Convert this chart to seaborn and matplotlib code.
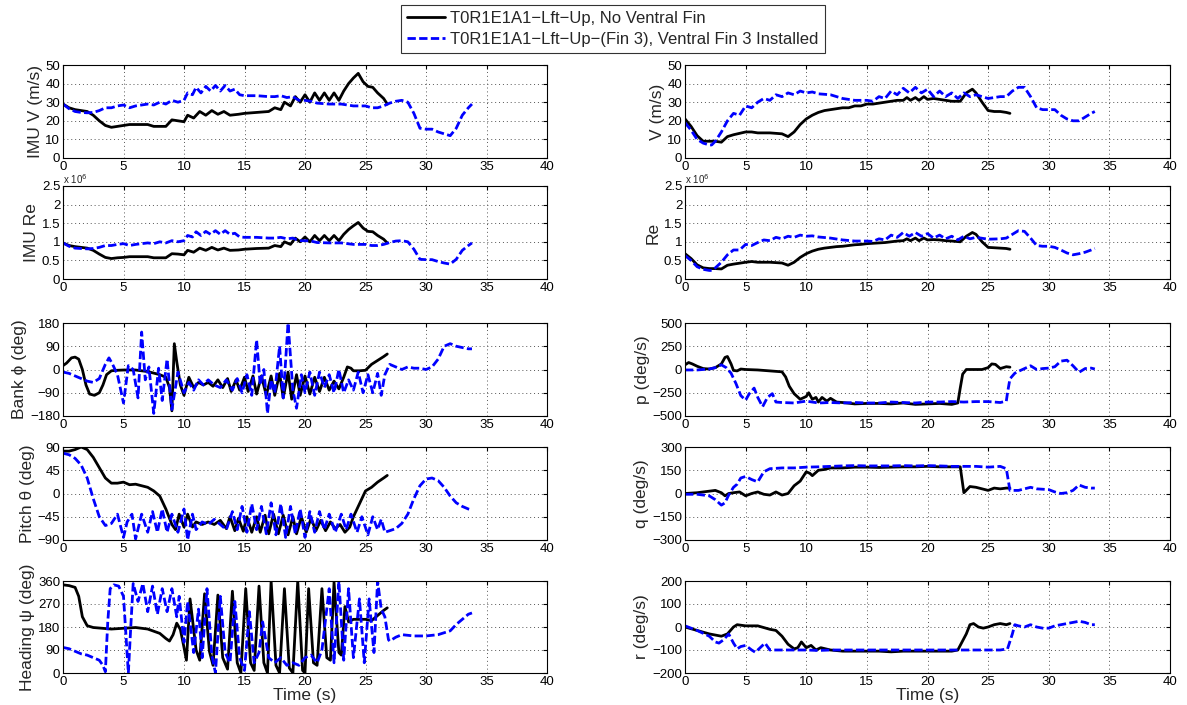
import numpy as np
import pandas as pd
import matplotlib
matplotlib.use("Agg")
import matplotlib.pyplot as plt
import seaborn as sns

# ---------------- data ----------------
label_nf = "T0R1E1A1\u2212Lft\u2212Up, No Ventral Fin"
label_f3 = "T0R1E1A1\u2212Lft\u2212Up\u2212(Fin 3), Ventral Fin 3 Installed"

# IMU V (m/s)
t_imuv_nf = [0,0.5,1,1.5,2,2.5,3,3.5,4,4.5,5,5.5,6,6.5,7,7.5,8,8.5,9,9.5,10,10.3,10.8,11.3,11.8,12.3,12.8,13.3,13.8,14.5,15,16,17,17.5,18,18.3,18.8,19.2,19.6,20,20.4,20.8,21.2,21.6,22,22.4,22.8,23.2,23.6,24,24.4,24.8,25.2,25.6,26,26.5,26.8]
imuv_nf = [29,27,26,25.5,25,23,20,17.5,16.5,17,17.5,18,18,18,18,17,17,17,20.5,20,19.5,23,21.5,25,23,25.5,23.5,25,23,23.5,24,24.5,25,27,26,30,28,33,30,34,30,35,31,35,31,35,31,36,40,43,45.5,41,38.5,38,35,32,29]
t_imuv_f3 = [0,0.5,1,1.5,2,2.5,3,3.5,4,4.5,5,5.5,6,6.5,7,7.5,8,8.5,9,9.5,10,10.3,10.7,11,11.4,11.8,12.2,12.6,13,13.4,13.8,14.2,14.6,15,16,17,17.5,18,18.5,19,19.5,20,20.5,21,22,23,24,25,25.5,26,26.5,27,27.5,28,28.5,29,29.5,30,30.5,31,31.5,32,32.5,33,33.5,33.8]
imuv_f3 = [29,26.5,25,24.5,24.3,24.5,25.5,27,27,28,28.5,27,28,28.5,29,28.5,30,29,31,30,31,35,34,38,35,38.5,36,39,36,39,36,37,34,33.5,33.5,33,33,33.5,32.5,33,31,31,30.5,29.5,29,29,28,28,27,27,28,29.5,30.5,31,30,24,16,15.5,15.5,14,13,12,16,23,27,29]

# IMU Re (x 1e6)
imure_nf = [0.97,0.9,0.87,0.85,0.83,0.77,0.67,0.58,0.55,0.57,0.58,0.6,0.6,0.6,0.6,0.57,0.57,0.57,0.68,0.67,0.65,0.77,0.72,0.83,0.77,0.85,0.78,0.83,0.77,0.78,0.8,0.82,0.83,0.9,0.87,1.0,0.93,1.1,1.0,1.13,1.0,1.17,1.03,1.17,1.03,1.17,1.03,1.2,1.33,1.43,1.52,1.37,1.28,1.27,1.17,1.07,0.97]
imure_f3 = [0.97,0.88,0.83,0.82,0.81,0.82,0.85,0.9,0.9,0.93,0.95,0.9,0.93,0.95,0.97,0.95,1.0,0.97,1.03,1.0,1.03,1.17,1.13,1.27,1.17,1.28,1.2,1.3,1.2,1.3,1.2,1.23,1.13,1.12,1.12,1.1,1.1,1.12,1.08,1.1,1.03,1.03,1.02,0.98,0.97,0.97,0.93,0.93,0.9,0.9,0.93,0.98,1.02,1.03,1.0,0.8,0.53,0.52,0.52,0.47,0.43,0.4,0.53,0.77,0.9,0.97]

# Bank phi (deg)
t_bank_nf = [0,0.3,0.7,1,1.3,1.6,1.9,2.2,2.6,3,3.3,3.6,4,4.5,5,6,7,8,8.5,8.8,9,9.2,9.4,9.7,10,10.4,10.8,11.2,11.6,12,12.4,12.8,13.2,13.6,13.9,14.3,14.6,15,15.3,15.7,16,16.4,16.8,17.2,17.5,17.9,18.2,18.6,18.9,19.3,19.6,20,20.4,20.8,21.2,21.6,22,22.4,22.8,23.2,23.5,23.8,24,24.5,25,25.5,26,26.5,26.8]
bank_nf = [15,25,45,48,40,0,-60,-95,-100,-90,-60,-20,-5,-3,-2,-2,-8,-20,-30,-70,-160,100,30,-60,-100,-30,-70,-50,-60,-50,-65,-40,-70,-35,-85,-40,-80,-30,-85,-25,-95,-25,-100,-25,-100,-15,-110,-10,-115,-20,-100,-25,-95,-30,-85,-30,-80,-45,-75,-30,10,5,-5,-5,-3,20,35,50,60]
t_bank_f3 = [0,0.5,1,1.5,2,2.5,3,3.5,3.8,4.1,4.5,5,5.4,5.8,6.2,6.5,6.8,7.1,7.5,7.9,8.2,8.6,9,9.5,10,10.4,10.8,11.2,11.6,12,12.5,13,13.5,14,14.4,14.8,15.2,15.6,16,16.3,16.6,16.9,17.2,17.5,17.9,18.2,18.6,19,19.3,19.7,20,20.4,20.8,21.2,21.6,22,22.4,22.8,23.2,23.6,24,24.4,24.8,25.2,25.6,26,26.3,26.6,27,27.5,28,28.5,29,29.5,30,30.5,31,31.5,32,32.5,33,33.5,33.8]
bank_f3 = [-10,-15,-25,-35,-45,-50,-35,20,45,20,-20,-130,15,0,-110,145,-40,10,-170,5,-120,40,-155,-10,-90,-50,-80,-40,-60,-40,-60,-70,-40,-80,-35,-90,-20,-100,115,-60,0,-170,-40,-90,90,-110,180,-80,-150,-20,-90,-10,-100,-10,-70,-20,-90,0,-90,-40,-80,-10,-90,-20,-90,-15,-100,-20,20,10,0,10,5,5,0,10,40,90,100,90,85,80,80]

# Pitch theta (deg)
t_pitch_nf = [0,0.5,1,1.5,2,2.5,3,3.5,4,4.5,5,5.5,6,6.5,7,7.5,8,8.5,9,9.3,9.6,10,10.3,10.7,11,11.5,12,12.5,13,13.5,13.8,14.2,14.5,14.9,15.2,15.6,16,16.3,16.7,17,17.4,17.8,18.2,18.6,19,19.3,19.7,20.1,20.5,20.9,21.3,21.7,22.1,22.5,22.9,23.3,23.7,24,24.5,25,25.5,26,26.5,26.8]
pitch_nf = [82,82,85,90,85,70,50,30,20,20,22,17,18,15,12,5,-5,-30,-60,-70,-40,-65,-40,-65,-55,-60,-55,-60,-52,-68,-45,-72,-48,-73,-45,-75,-45,-75,-42,-78,-40,-78,-42,-80,-45,-78,-45,-75,-48,-72,-52,-72,-55,-68,-60,-75,-65,-45,-20,5,12,22,30,35]
t_pitch_f3 = [0,0.5,1,1.5,2,2.5,3,3.5,4,4.5,5,5.3,5.7,6,6.5,7,7.4,7.8,8.2,8.6,9,9.5,10,10.3,10.7,11,11.5,12,12.5,13,13.5,14,14.4,14.8,15.2,15.6,16,16.4,16.8,17.2,17.6,18,18.4,18.8,19.2,19.6,20,20.4,20.8,21.2,21.6,22,22.5,23,23.4,23.8,24.3,24.7,25.2,25.6,26,26.3,26.6,27,27.5,28,28.5,29,29.5,30,30.5,31,31.5,32,32.5,33,33.5,33.8]
pitch_f3 = [78,75,68,55,30,-10,-45,-62,-58,-40,-85,-55,-40,-88,-40,-75,-35,-75,-30,-75,-40,-75,-30,-90,-40,-70,-55,-60,-50,-60,-70,-35,-70,-25,-75,-20,-70,-25,-78,-18,-80,-20,-85,-25,-78,-30,-85,-35,-75,-35,-70,-40,-75,-40,-70,-40,-75,-45,-80,-45,-70,-50,-75,-72,-68,-58,-40,-10,15,28,30,25,12,-5,-18,-25,-30,-32]

# Heading psi (deg)
t_head_nf = [0,0.5,1,1.3,1.6,2,2.5,3,4,5,6,7,8,8.5,8.8,9.1,9.4,9.7,10,10.2,10.5,11,11.3,11.7,12.1,12.4,12.8,13.2,13.6,14,14.4,14.7,15.1,15.5,15.8,16.2,16.6,16.9,17.2,17.6,17.9,18.3,18.7,19,19.4,19.8,20,20.3,20.7,21,21.4,21.8,22.1,22.4,22.8,23,23.3,23.6,24,25,25.5,26,26.5,26.8]
head_nf = [345,342,335,300,220,185,178,176,172,175,178,172,155,135,125,150,195,170,100,50,290,90,50,310,85,30,305,60,15,320,40,0,330,40,10,340,40,0,360,30,0,330,20,0,360,10,0,330,40,30,330,60,50,355,80,70,260,200,210,210,205,225,245,255]
t_head_f3 = [0,0.5,1,1.5,2,2.5,3,3.3,3.5,3.7,3.9,4.2,4.6,5,5.2,5.4,5.6,5.8,6.2,6.6,7,7.4,7.8,8.2,8.6,9,9.4,9.6,10,10.3,10.8,11.2,11.5,11.9,12.3,12.6,13,13.4,13.8,14.2,14.6,15,15.4,15.8,16.2,16.5,17,17.5,18,18.5,19,19.5,20,20.5,21,21.4,22,22.4,22.8,23.2,23.6,24,24.5,24.9,25.3,25.7,26,26.3,26.6,26.9,27,27.5,28,29,30,31,32,32.5,33,33.5,33.8]
head_f3 = [100,95,85,75,70,60,50,30,5,200,330,345,340,300,150,0,180,350,280,350,240,340,230,330,240,330,220,300,120,280,80,250,60,330,70,0,300,80,40,280,60,10,240,40,80,200,60,40,60,30,40,30,60,70,40,90,330,40,360,50,330,60,290,40,290,80,360,250,220,130,125,140,150,145,145,150,165,190,210,230,235]

# V (m/s), right column
t_v_nf = [0,0.5,1,1.5,2,2.5,3,3.5,4,5,5.5,6,7,8,8.5,9,9.5,10,10.5,11,11.5,12,12.5,13,13.5,14,14.5,15,15.5,16,16.5,17,17.5,18,18.3,18.6,19,19.3,19.7,20,20.5,21,21.5,22,22.7,23.2,23.7,24,24.5,25,25.5,26,26.5,26.8]
v_nf = [21,17,12,9,9,9,8.5,11.5,12.5,14,14,13.5,13.5,13,11.5,14,18,21,23,24.5,25.5,26,26.5,27,27,28,28,29,29,29.5,30,30.5,31,31,32.5,31,32.5,31,33,31.5,32,31.5,31,30.5,30.5,35,37,35,30,25.5,25,25,24.5,24]
t_v_f3 = [0,0.5,1,1.5,2,2.2,2.5,3,3.5,4,4.5,5,5.5,6,6.5,7,7.5,8,8.5,9,9.5,10,10.5,11,12,13,14,15,15.5,16,16.5,17,17.5,18,18.5,19,19.5,20,20.5,21,21.5,22,22.5,23,23.5,24,25,26,26.5,27,27.5,28,28.5,29,29.5,30,30.5,31,31.5,32,32.5,33,33.5,33.8]
v_f3 = [19,15,10,8,7,7,9,14,20,24,23,28,27,30,32,31,34,33,35,34,36,35,35.5,34.5,34,32,31,31,30.5,33,32,36,34,37.5,35,38,35,37,33,36,33,35,32,35,33,34,32,33,33,36,38,38,33,27,26,26,26,23,21,20,20,22,24,25]

# Re (x 1e6), right column
re_nf = [0.68,0.55,0.38,0.3,0.28,0.28,0.27,0.37,0.4,0.45,0.47,0.45,0.45,0.43,0.37,0.45,0.58,0.68,0.75,0.8,0.83,0.85,0.87,0.88,0.9,0.92,0.93,0.95,0.96,0.97,0.98,1.0,1.02,1.03,1.08,1.03,1.1,1.03,1.1,1.05,1.06,1.05,1.03,1.02,1.0,1.15,1.25,1.2,1.0,0.85,0.84,0.83,0.82,0.8]
re_f3 = [0.63,0.5,0.33,0.26,0.23,0.23,0.3,0.45,0.65,0.78,0.78,0.93,0.9,0.98,1.05,1.03,1.12,1.08,1.15,1.12,1.18,1.15,1.16,1.13,1.1,1.05,1.02,1.02,1.01,1.08,1.05,1.18,1.12,1.25,1.15,1.25,1.15,1.22,1.1,1.18,1.08,1.15,1.05,1.15,1.08,1.12,1.07,1.08,1.1,1.2,1.3,1.28,1.1,0.9,0.88,0.88,0.85,0.78,0.7,0.65,0.68,0.72,0.78,0.82]

# p (deg/s)
t_p_nf = [0,0.3,0.6,1,1.5,2,2.5,3,3.3,3.5,3.8,4,4.3,4.6,5,6,7,7.5,8,8.3,8.6,9,9.5,10,10.2,10.5,10.8,11,11.3,11.7,12,12.5,13,14,15,16,17,18,19,20,21,22,22.5,22.7,22.9,23.2,24,24.5,25,25.3,25.6,26,26.5,26.8]
p_nf = [50,75,60,35,10,5,20,60,130,140,60,-10,-15,5,0,-5,-15,-20,-25,-80,-180,-260,-320,-290,-250,-320,-300,-350,-300,-340,-310,-350,-355,-370,-365,-365,-370,-360,-375,-370,-365,-375,-360,-200,-50,0,0,0,20,60,55,10,30,25]
t_p_f3 = [0,1,2,2.5,3,3.4,3.8,4.2,4.6,5,5.3,5.7,6,6.4,6.8,7.2,7.5,8,9,10,11,12,13,14,15,16,17,18,19,20,21,22,23,24,25,26,26.5,26.6,26.8,27.2,27.5,28,28.5,29,29.5,30,30.5,31,31.5,32,32.5,33,33.5,33.8]
p_f3 = [-5,-5,5,20,50,20,-40,-150,-280,-330,-260,-200,-300,-400,-300,-260,-350,-355,-360,-340,-360,-355,-360,-355,-360,-360,-350,-355,-360,-350,-350,-345,-350,-345,-345,-355,-340,-250,-100,-40,-20,10,40,0,10,15,30,90,100,40,-30,10,15,5]

# q (deg/s)
t_q_nf = [0,1,2,2.5,3,3.3,3.6,4,4.5,5,5.5,6,6.5,7,7.5,8,8.5,9,9.5,10,10.3,10.5,11,11.5,12,13,14,15,16,17,18,19,20,21,22,22.7,23,23.5,24,24.5,25,25.5,26,26.5,26.8]
q_nf = [0,5,15,20,5,-15,0,5,10,-15,0,10,-5,-10,10,-10,0,50,80,140,130,115,150,155,165,165,170,170,168,170,172,172,175,172,172,172,5,45,40,30,20,35,30,35,35]
t_q_f3 = [0,1,2,2.5,3,3.3,3.6,4,4.3,4.6,5,5.5,6,6.5,7,8,9,10,11,12,13,14,15,16,17,18,19,20,21,22,23,24,25,26,26.5,26.8,27,27.5,28,28.5,29,30,30.5,31,31.5,32,32.5,33,33.5,33.8]
q_f3 = [-5,-5,-15,-40,-75,-60,-10,40,60,100,110,90,75,140,160,165,165,170,172,175,178,180,178,178,178,180,178,180,178,175,175,175,170,175,160,20,20,20,30,40,30,25,10,0,5,20,55,40,35,35]

# r (deg/s)
t_r_nf = [0,1,2,2.5,3,3.5,4,4.3,5,6,7,7.5,8,8.5,9,9.3,9.6,10,10.4,10.8,11.2,11.6,12,13,14,15,16,17,18,19,20,21,22,22.5,22.8,23.2,23.5,23.8,24.2,24.6,25,25.5,26,26.5,26.8]
r_nf = [0,-15,-30,-35,-40,-30,0,10,5,5,-10,-15,-40,-75,-95,-90,-65,-90,-80,-100,-90,-95,-100,-105,-105,-105,-105,-108,-105,-105,-105,-105,-105,-100,-70,-30,10,15,0,-5,0,10,15,10,15]
t_r_f3 = [0,1,2,2.5,2.8,3.2,3.6,4,4.3,4.6,5,5.5,5.8,6.2,6.6,7,8,9,10,11,12,13,14,15,16,17,18,19,20,21,22,23,24,25,26,26.6,27,27.2,27.5,28,28.5,29,29.5,30,30.5,31,31.5,32,32.5,33,33.5,33.8]
r_f3 = [5,-15,-40,-65,-70,-55,-30,-70,-95,-85,-80,-100,-110,-90,-70,-100,-100,-100,-100,-102,-100,-100,-100,-100,-100,-100,-100,-100,-100,-100,-100,-100,-100,-100,-100,-95,-30,10,5,0,10,0,-5,-5,5,10,15,20,25,20,10,10]

# panel definitions: (ylabel, t_nf, y_nf, t_f3, y_f3, ylim, yticks, yticklabels, sci)
left_panels = [
    ("IMU V (m/s)", t_imuv_nf, imuv_nf, t_imuv_f3, imuv_f3, (0, 50), [0,10,20,30,40,50], None, False),
    ("IMU Re", t_imuv_nf, imure_nf, t_imuv_f3, imure_f3, (0, 2.5), [0,0.5,1,1.5,2,2.5], ["0","0.5","1","1.5","2","2.5"], True),
    ("Bank \u03d5 (deg)", t_bank_nf, bank_nf, t_bank_f3, bank_f3, (-180, 180), [-180,-90,0,90,180], ["\u2212180","\u221290","0","90","180"], False),
    ("Pitch \u03b8 (deg)", t_pitch_nf, pitch_nf, t_pitch_f3, pitch_f3, (-90, 90), [-90,-45,0,45,90], ["\u221290","\u221245","0","45","90"], False),
    ("Heading \u03c8 (deg)", t_head_nf, head_nf, t_head_f3, head_f3, (0, 360), [0,90,180,270,360], None, False),
]
right_panels = [
    ("V (m/s)", t_v_nf, v_nf, t_v_f3, v_f3, (0, 50), [0,10,20,30,40,50], None, False),
    ("Re", t_v_nf, re_nf, t_v_f3, re_f3, (0, 2.5), [0,0.5,1,1.5,2,2.5], ["0","0.5","1","1.5","2","2.5"], True),
    ("p (deg/s)", t_p_nf, p_nf, t_p_f3, p_f3, (-500, 500), [-500,-250,0,250,500], ["\u2212500","\u2212250","0","250","500"], False),
    ("q (deg/s)", t_q_nf, q_nf, t_q_f3, q_f3, (-300, 300), [-300,-150,0,150,300], ["\u2212300","\u2212150","0","150","300"], False),
    ("r (deg/s)", t_r_nf, r_nf, t_r_f3, r_f3, (-200, 200), [-200,-100,0,100,200], ["\u2212200","\u2212100","0","100","200"], False),
]

# ---------------- plotting ----------------
sns.set_style("white")
plt.rcParams['font.family'] = ['Liberation Sans', 'DejaVu Sans']

W, H = 1187, 705
fig = plt.figure(figsize=(W / 100, H / 100), dpi=100)

row_px = [(65, 158), (186, 279), (323, 416), (447, 540), (581, 673)]
col_px = [(63, 547), (685, 1170)]

handles = None
for ci, panels in enumerate([left_panels, right_panels]):
    x0, x1 = col_px[ci]
    for ri, (ylab, tnf, ynf, tf3, yf3, ylim, yt, ytl, sci) in enumerate(panels):
        top, bot = row_px[ri]
        ax = fig.add_axes([x0 / W, 1 - bot / H, (x1 - x0) / W, (bot - top) / H])
        df = pd.concat([
            pd.DataFrame({"t": tnf, "y": ynf, "run": label_nf}),
            pd.DataFrame({"t": tf3, "y": yf3, "run": label_f3}),
        ], ignore_index=True)
        sns.lineplot(data=df, x="t", y="y", hue="run", style="run",
                     palette={label_nf: "black", label_f3: "#0000ff"},
                     dashes={label_nf: "", label_f3: (3, 1.2)},
                     sort=False, estimator=None, linewidth=2.0, ax=ax, legend=(ci == 0 and ri == 0))
        if ci == 0 and ri == 0:
            handles, labels = ax.get_legend_handles_labels()
            ax.get_legend().remove()
        ax.set_xlim(0, 40)
        ax.set_ylim(*ylim)
        ax.set_xticks(range(0, 41, 5))
        ax.set_yticks(yt)
        if ytl is not None:
            ax.set_yticklabels(ytl)
        ax.grid(True, linestyle=(0, (1, 3)), color="#555555", linewidth=0.7)
        ax.tick_params(direction="in", top=True, right=True, labelsize=9.5, length=3, pad=2, colors="black")
        for s in ax.spines.values():
            s.set_color("black")
            s.set_linewidth(0.8)
        ax.set_ylabel(ylab, fontsize=12.5, labelpad=2)
        if ri == 4:
            ax.set_xlabel("Time (s)", fontsize=12.5, labelpad=0)
        else:
            ax.set_xlabel("")
        if sci:
            ax.text(0.0, 1.0, r"x 10$^{6}$", transform=ax.transAxes, fontsize=7,
                    ha="left", va="bottom")

leg = fig.legend(handles, [label_nf, label_f3], loc="upper center", bbox_to_anchor=(613 / W, 1 - 5 / H),
                 frameon=True, fancybox=False, fontsize=12, handlelength=2.3, handletextpad=0.3,
                 borderpad=0.35, labelspacing=0.35, borderaxespad=0)
leg.get_frame().set_edgecolor("black")
leg.get_frame().set_linewidth(0.8)

fig.savefig("out.png", dpi=100, facecolor="white")
